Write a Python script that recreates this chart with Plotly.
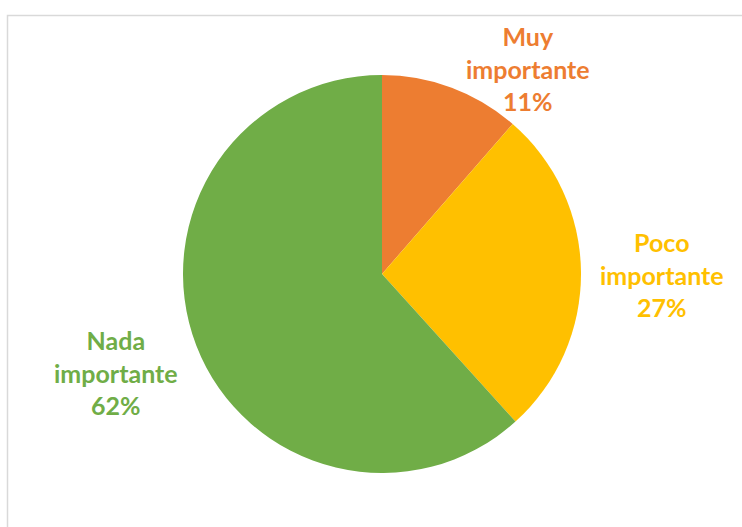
import plotly.graph_objects as go

categories = ["Muy importante", "Poco importante", "Nada importante"]
label_lines = ["Muy<br>importante", "Poco<br>importante", "Nada<br>importante"]
values = [11.4, 26.9, 61.7]
colors = ["#ED7D31", "#FFC000", "#70AD47"]

W, H = 742, 527
# label block centres in pixels
label_pos = [(528, 69), (662, 274), (116, 372)]

fig = go.Figure(go.Pie(
    labels=categories,
    values=values,
    sort=False,
    direction="clockwise",
    rotation=0,
    marker=dict(colors=colors, line=dict(width=0)),
    textinfo="none",
    hoverinfo="label+percent",
    showlegend=False,
    domain=dict(x=[183 / W, 581 / W], y=[1 - 473 / H, 1 - 75 / H]),
))

total = sum(values)
for lab, v, c, (px, py) in zip(label_lines, values, colors, label_pos):
    fig.add_annotation(
        x=px / W, y=1 - py / H, xref="paper", yref="paper",
        text=f"<b>{lab}<br>{round(100 * v / total)}%</b>",
        showarrow=False, align="center", xanchor="center", yanchor="middle",
        font=dict(family="Lato", size=25, color=c),
    )

fig.add_shape(type="rect", xref="paper", yref="paper",
              x0=7.5 / W, x1=1.05, y0=-0.05, y1=1 - 15.5 / H,
              line=dict(color="#D9D9D9", width=1.5), fillcolor="rgba(0,0,0,0)")

fig.update_layout(
    width=W, height=H,
    margin=dict(l=0, r=0, t=0, b=0),
    paper_bgcolor="white", plot_bgcolor="white",
)

fig.write_html("out.html", config={"displayModeBar": False},
               post_script="document.body.style.margin='0';")
